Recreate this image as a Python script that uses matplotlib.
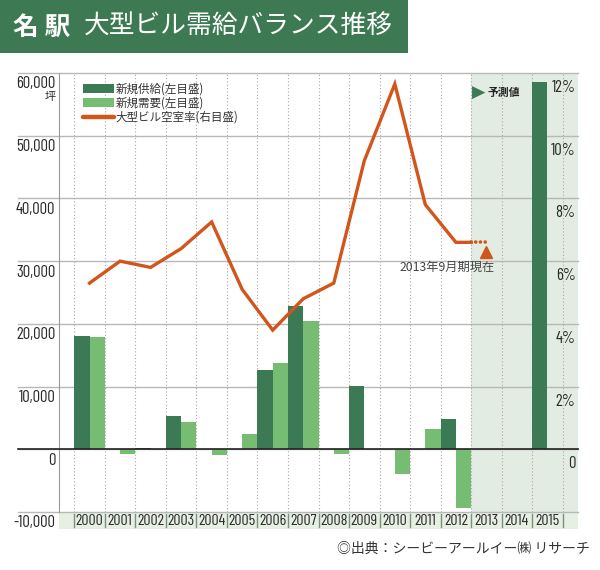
import matplotlib
matplotlib.use("Agg")
import matplotlib.pyplot as plt
from matplotlib.patches import Patch, Rectangle
from matplotlib.lines import Line2D

plt.rcParams['font.family'] = ['Noto Sans CJK JP', 'DejaVu Sans']
NUM = ['Barlow Condensed', 'Roboto Condensed', 'DejaVu Sans']

# datos
anios = [str(a) for a in range(2000, 2016)]
oferta = [18000, 0, 200, 5300, 0, 0, 12700, 22800, 0, 10050, 0, 0, 4800, 0, 0, 58600]
demanda = [17850, -800, 0, 4300, -900, 2450, 13700, 20400, -800, 100, -3900, 3300, -9400, 0, 0, 0]
vacantes = [5.3, 6.0, 5.8, 6.4, 7.25, 5.1, 3.8, 4.8, 5.3, 9.2, 11.65, 7.8, 6.6]
vacante_actual = 6.6
marca_actual = 6.3
ticks_izq = [-10000, 0, 10000, 20000, 30000, 40000, 50000, 60000]
ticks_der = [0, 2, 4, 6, 8, 10, 12]

OSCURO = '#3b7a55'
CLARO = '#77bc73'
NARANJA = '#d2561b'
TEXTO = '#2a2a2a'

fig = plt.figure(figsize=(6, 5.7), dpi=100)
ax = fig.add_axes([59/600, 58/570, 519/600, 439/570])
ax.set_xlim(-1, 16)
ax.set_ylim(-10000, 60000)

x = list(range(len(anios)))
inicio_pred = 12.5

# zona de prediccion
ax.axvspan(inicio_pred, 16, color='#e3ece3', zorder=0, lw=0)

# lineas de fondo
for v in ticks_izq:
    ax.axhline(v, xmin=-0.079, xmax=1, color='#b8b8b8', lw=1, clip_on=False, zorder=1)
ax.axhline(0, xmin=-0.079, xmax=1, color='#222222', lw=1.2, clip_on=False, zorder=4)
limites = [i - 0.5 for i in range(len(anios) + 1)]
ax.vlines(limites, -10000, 60000, colors='#a8a8a8', linestyles=(0, (1, 2)), lw=0.8, zorder=1)

# barras
ax.bar([i - 0.25 for i in x], oferta, width=0.5, color=OSCURO, zorder=3, lw=0)
ax.bar([i + 0.25 for i in x], demanda, width=0.5, color=CLARO, zorder=3, lw=0)

for s in ['top', 'right', 'bottom']:
    ax.spines[s].set_visible(False)
ax.spines['left'].set_color('#999999')
ax.set_yticks([])

# banda de anios
ax.add_patch(Rectangle((0, -0.039), 1, 0.039, transform=ax.transAxes, color='#e6f0e2',
                       clip_on=False, zorder=0, lw=0))
trans = ax.get_xaxis_transform()
for b in limites:
    ax.plot([b, b], [-0.035, -0.004], transform=trans, color='#7d8f7d', lw=1, clip_on=False)
ax.set_xticks(x)
ax.set_xticklabels(anios, family=NUM, fontsize=11.5, color=TEXTO)
ax.tick_params(axis='x', length=0, pad=1.2)

# etiquetas eje izquierdo
for v in ticks_izq:
    ax.annotate(f'{v:,}', xy=(-0.007, v), xycoords=('axes fraction', 'data'),
                xytext=(0, -2.5), textcoords='offset points', ha='right', va='top',
                family=NUM, fontsize=12, color=TEXTO)
ax.annotate('坪', xy=(-0.007, 60000), xycoords=('axes fraction', 'data'),
            xytext=(0, -14), textcoords='offset points', ha='right', va='top',
            fontsize=8, color=TEXTO)

# eje derecho: tasa de vacantes
ax2 = ax.twinx()
ax2.set_ylim(-2, 12)
ax2.set_yticks([])
for s in ax2.spines.values():
    s.set_visible(False)
for v in ticks_der:
    etiqueta = '0' if v == 0 else f'{v}%'
    ax2.annotate(etiqueta, xy=(0.995, v), xycoords=('axes fraction', 'data'),
                 xytext=(0, -5), textcoords='offset points', ha='right', va='top',
                 family=NUM, fontsize=12, color=TEXTO)

ax2.plot(x[:len(vacantes)] + [inicio_pred], vacantes + [vacante_actual], color=NARANJA,
         lw=2.4, solid_joinstyle='miter', zorder=5)
ax2.plot([inicio_pred, 13], [vacante_actual, vacante_actual], color=NARANJA, lw=2.6,
         linestyle=(0, (0.01, 1.3)), dash_capstyle='round', zorder=5)
ax2.plot([13], [marca_actual], marker='^', markersize=9, color=NARANJA, lw=0)
ax2.annotate('2013年9月期現在', xy=(13, marca_actual), xytext=(6, -6.5),
             textcoords='offset points', ha='right', va='top', fontsize=8.8, color='#444444')

# indicador de prediccion
ax2.annotate('▶', xy=(inicio_pred, 12), xytext=(0.5, -14), textcoords='offset points',
             ha='left', va='center', fontsize=12.5, color=OSCURO, family=['DejaVu Sans'])
ax2.annotate('予測値', xy=(inicio_pred, 12), xytext=(12, -14), textcoords='offset points',
             ha='left', va='center', fontsize=7.8, color='#222222', fontweight='bold')

# leyenda
manijas = [Patch(color=OSCURO, lw=0), Patch(color=CLARO, lw=0),
           Line2D([], [], color=NARANJA, lw=3.2, solid_capstyle='round')]
textos = ['新規供給(左目盛)', '新規需要(左目盛)', '大型ビル空室率(右目盛)']
ax2.legend(manijas, textos, loc='upper left', bbox_to_anchor=(0.046, 0.978), frameon=False,
           fontsize=8.3, handlelength=2.7, handleheight=0.8, handletextpad=0.15,
           labelspacing=0.1, borderpad=0, borderaxespad=0, labelcolor='#333333')

# titulo
fig.patches.append(Rectangle((0, 1 - 53/570), 408/600, 53/570, transform=fig.transFigure,
                             color='#3d7a53', lw=0))
fig.text(13/600, 1 - 27/570, '名 駅', color='white', fontsize=18.5, fontweight='bold',
         va='center', ha='left')
fig.text(84/600, 1 - 27/570, '大型ビル需給バランス推移', color='white', fontsize=18.5,
         va='center', ha='left')

fig.text(590/600, 21/570, '◎出典：シービーアールイー㈱ リサーチ', ha='right', va='center',
         fontsize=10, color='#333333')

fig.savefig('out.png', dpi=100)
